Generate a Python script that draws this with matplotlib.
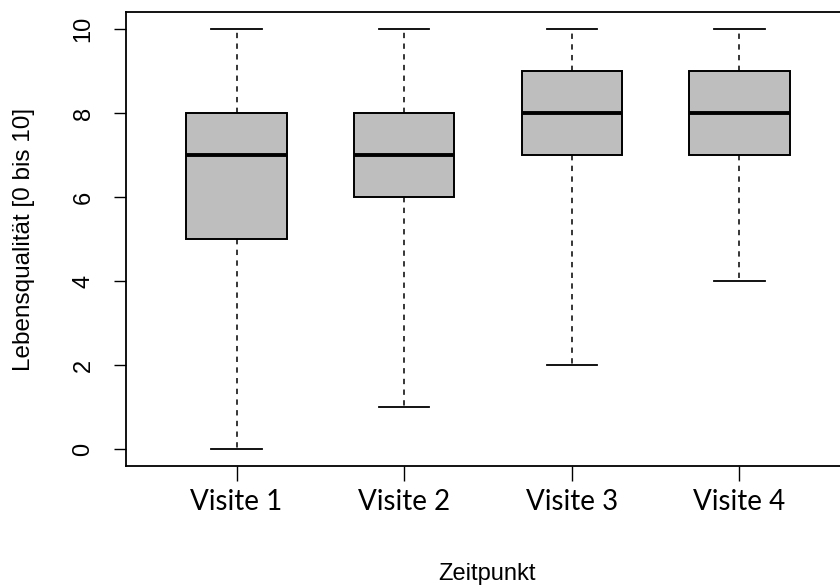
import matplotlib
matplotlib.use("Agg")
import matplotlib.pyplot as plt

# Lebensqualität je Visite (Fünf-Punkte-Zusammenfassung)
categories = ["Visite 1", "Visite 2", "Visite 3", "Visite 4"]
whisker_low = [0, 1, 2, 4]
q1 = [5, 6, 7, 7]
median = [7, 7, 8, 8]
q3 = [8, 8, 9, 9]
whisker_high = [10, 10, 10, 10]

stats = [
    dict(label=c, whislo=lo, q1=a, med=m, q3=b, whishi=hi, fliers=[])
    for c, lo, a, m, b, hi in zip(categories, whisker_low, q1, median, q3, whisker_high)
]

fig = plt.figure(figsize=(8.4, 5.88), dpi=100)
ax = fig.add_axes([0.15, 0.2078, 0.8619, 0.7714])

ax.bxp(
    stats,
    positions=range(1, len(categories) + 1),
    widths=0.6,
    capwidths=0.3,
    patch_artist=True,
    showfliers=False,
    boxprops=dict(facecolor="#bebebe", edgecolor="black", linewidth=1.4),
    medianprops=dict(color="black", linewidth=2.8, solid_capstyle="butt"),
    whiskerprops=dict(color="black", linewidth=1.1, linestyle=(0, (3.5, 3.5))),
    capprops=dict(color="black", linewidth=1.3),
)

ax.set_xlim(0.34, 4.66)
ax.set_ylim(-0.4, 10.4)
ax.set_yticks([0, 2, 4, 6, 8, 10])
ax.set_xticks(range(1, len(categories) + 1))
ax.set_xticklabels(categories, fontfamily="Lato", fontsize=20)
for lab in ax.get_yticklabels():
    lab.set_rotation(90)
    lab.set_va("center")
    lab.set_fontfamily("Liberation Sans")
    lab.set_fontsize(17)
ax.tick_params(axis="y", length=8.6, width=1.0, pad=14)
ax.tick_params(axis="x", length=10.8, width=1.0, pad=6)
for side in ("left", "top", "bottom"):
    ax.spines[side].set_linewidth(1.3)
ax.spines["right"].set_visible(False)

fig.text(24 / 840, 1 - 239 / 588, "Lebensqualität [0 bis 10]", rotation=90,
         ha="center", va="center", fontfamily="Liberation Sans", fontsize=17.5)
fig.text(487 / 840, 1 - 574 / 588, "Zeitpunkt", ha="center", va="center",
         fontfamily="Liberation Sans", fontsize=17)

fig.savefig("out.png", dpi=100)
